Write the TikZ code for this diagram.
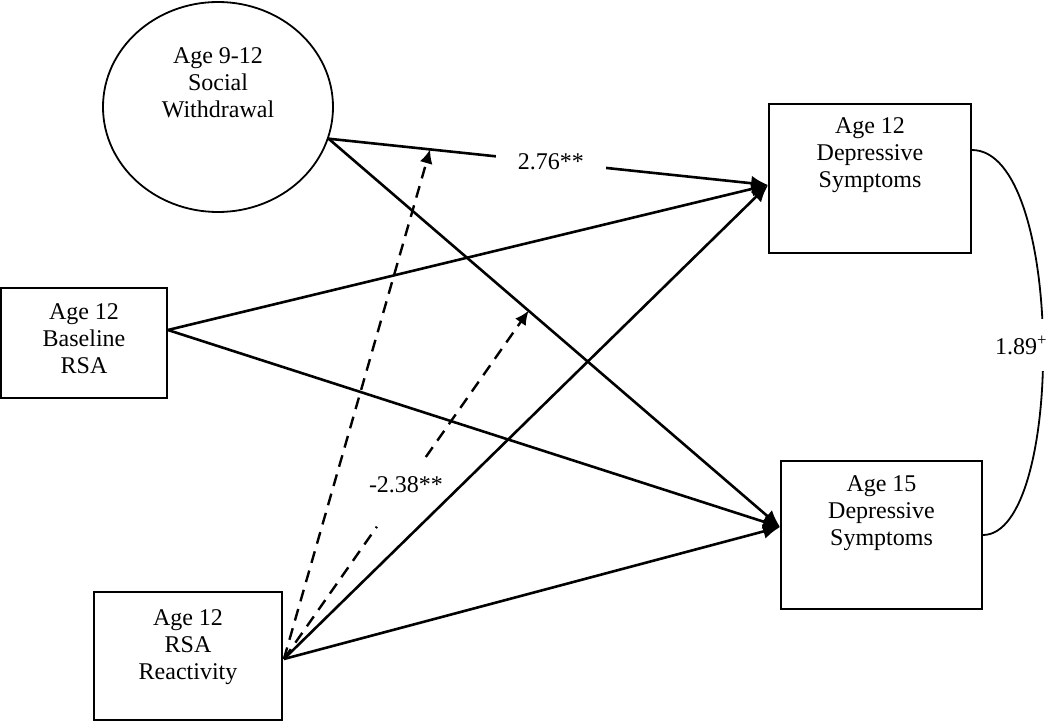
\documentclass[tikz,border=0pt]{standalone}
\usepackage{fontspec}
\setmainfont{Liberation Serif}
\usetikzlibrary{shapes.geometric,arrows.meta,calc}
\begin{document}
\begin{tikzpicture}[x=1pt,y=-1pt,
  box/.style={draw,line width=1.8pt,inner sep=0pt},
  txt/.style={align=center,font=\fontsize{24}{27}\selectfont,inner sep=0pt},
  arr/.style={line width=2.6pt,-{Latex[length=17pt,width=15pt]}},
  dline/.style={line width=2.4pt,dash pattern=on 12pt off 8pt},
  darr/.style={dline,-{Latex[length=14pt,width=13pt]}},
  lbl/.style={font=\fontsize{24}{27}\selectfont,fill=white}]
\useasboundingbox (0,0) rectangle (1050,722);

% shapes
\node[draw,ellipse,line width=1.8pt,minimum width=230pt,minimum height=210pt,inner sep=0pt] (sw) at (218,107) {};
\node[box,minimum width=166pt,minimum height=110pt] (bl) at (84,343) {};
\node[box,minimum width=188pt,minimum height=128pt] (rr) at (188,656) {};
\node[box,minimum width=202pt,minimum height=149pt] (d12) at (870,178.5) {};
\node[box,minimum width=201pt,minimum height=148pt] (d15) at (881.5,535) {};

% texts
\node[txt] (swt) at (218,83) {Age 9-12\\Social\\Withdrawal};
\node[txt] (blt) at (84,339) {Age 12\\Baseline\\RSA};
\node[txt] (rrt) at (188,647) {Age 12\\RSA\\Reactivity};
\node[txt] (d12t) at (870,155) {Age 12\\Depressive\\Symptoms};
\node[txt] (d15t) at (881.5,513) {Age 15\\Depressive\\Symptoms};

% ports
\coordinate (swout) at (sw.-16);
\coordinate (blout) at ($(bl.east)+(0,-13)$);
\coordinate (rrout) at ($(rr.east)+(1,3)$);
\coordinate (d12in) at ($(d12.west)+(0,6.5)$);
\coordinate (d15in) at ($(d15.west)+(0,-8)$);
\coordinate (c12) at ($(d12.east)+(0,-28.5)$);

% paths
\draw[arr] (swout) -- node[lbl,pos=0.506,inner xsep=22pt,inner ysep=2pt] (l276) {2.76**}
  coordinate[pos=0.231] (m1) (d12in);
\draw[arr] (swout) -- coordinate[pos=0.443] (m2) (d15in);
\draw[arr] (blout) -- (d12in);
\draw[arr] (blout) -- (d15in);
\draw[arr] (rrout) -- (d12in);
\draw[arr] (rrout) -- (d15in);

% moderation (dashed)
\draw[darr] (rrout) -- (m1);
\path (rrout) -- coordinate[pos=0.38] (g1) coordinate[pos=0.58] (g2) (m2);
\draw[dline] (rrout) -- (g1);
\draw[darr] (g2) -- (m2);
\node[font=\fontsize{24}{27}\selectfont,inner sep=0pt] (l238) at (406,485) {-2.38**};

% covariance
\draw[line width=1.8pt] (c12) .. controls (1065,150) and (1065,535) .. (d15.east);
\node[lbl,inner xsep=4pt,inner ysep=17pt] (l189) at (1021,345) {1.89\textsuperscript{+}};
\end{tikzpicture}
\end{document}
